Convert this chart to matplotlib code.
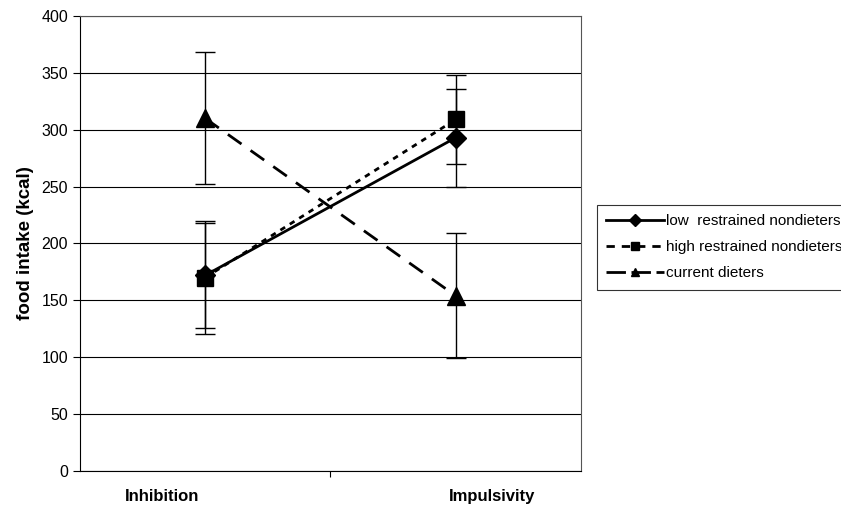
import numpy as np
import matplotlib.pyplot as plt
from matplotlib.lines import Line2D

plt.rcParams['font.family'] = ['Liberation Sans', 'DejaVu Sans']

conditions = ["Inhibition", "Impulsivity"]
groups = ["low  restrained nondieters", "high restrained nondieters", "current dieters"]
low_mean = [172, 293]
low_err = [46, 43]
high_mean = [170, 309]
high_err = [50, 39]
diet_mean = [310, 154]
diet_err = [58, 55]

x = np.arange(len(conditions))

fig = plt.figure(figsize=(8.41, 5.13), dpi=100)
ax = fig.add_axes([0.0951, 0.0819, 0.5957, 0.887])

styles = [
    (low_mean, low_err, "-", "D", 10, "-"),
    (high_mean, high_err, (0, (2, 2)), "s", 12, (0, (3, 2.5))),
    (diet_mean, diet_err, (0, (6, 4)), "^", 13, (0, (7, 2))),
]
handles = []
for (m, e, ls, mk, ms, leg_ls), lab in zip(styles, groups):
    ax.errorbar(x, m, yerr=e, fmt="none", ecolor="black", elinewidth=1,
                capsize=7, capthick=1, zorder=3)
    ax.plot(x, m, color="black", linestyle=ls, linewidth=2,
            marker=mk, markersize=ms, zorder=4)
    handles.append(Line2D([], [], color="black", linestyle=leg_ls,
                          linewidth=2, marker=mk, markersize=6, label=lab))

ax.set_xlim(-0.5, 1.5)
ax.set_ylim(0, 400)
ax.set_yticks(np.arange(0, 401, 50))
ax.yaxis.grid(True, color="black", linewidth=0.8)
ax.set_axisbelow(True)
ax.set_xticks([0.5])
ax.set_xticklabels([""])
ax.tick_params(axis="x", length=4, direction="out")
ax.tick_params(axis="y", length=5, labelsize=11.5)
# category labels sit a little off the data positions, as in the original
for xpos, c in zip([0.164, 0.822], conditions):
    ax.text(xpos, -0.057, c, transform=ax.transAxes, ha="center", va="center",
            fontsize=12, fontweight="bold")
for s in ax.spines.values():
    s.set_color("#555555")
    s.set_linewidth(0.8)
ax.spines["left"].set_color("black")
ax.spines["bottom"].set_color("black")
ax.set_ylabel("food intake (kcal)", fontsize=13.5, fontweight="bold", labelpad=5)

leg = fig.legend(handles=handles, loc="center left", bbox_to_anchor=(0.71, 0.518),
                 fontsize=11, frameon=True, fancybox=False, edgecolor="black",
                 handlelength=3.8, handletextpad=0.1, borderpad=0.6, labelspacing=0.8,
                 borderaxespad=0)
leg.get_frame().set_linewidth(0.8)

fig.savefig("out.png", dpi=100)
